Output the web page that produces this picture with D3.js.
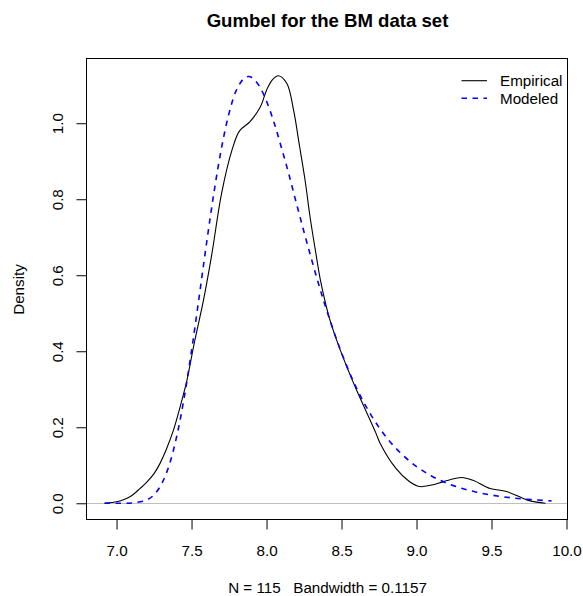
<!DOCTYPE html>
<html>
<head>
<meta charset="utf-8">
<script src="https://cdn.jsdelivr.net/npm/d3@7"></script>
<style>
  html, body { margin: 0; padding: 0; background: #fff; }
  svg { display: block; font-family: "Liberation Sans", Arial, Helvetica, sans-serif; }
  .pre { white-space: pre; }
</style>
</head>
<body>
<svg id="chart" width="583" height="596"></svg>
<script>
// ---- data ----
const titleText = "Gumbel for the BM data set";
const xLabel = "N = 115   Bandwidth = 0.1157";
const yLabel = "Density";
const seriesNames = ["Empirical", "Modeled"];

const xTicks = [7.0, 7.5, 8.0, 8.5, 9.0, 9.5, 10.0];
const xTickLabels = ["7.0", "7.5", "8.0", "8.5", "9.0", "9.5", "10.0"];
const yTicks = [0.0, 0.2, 0.4, 0.6, 0.8, 1.0];
const yTickLabels = ["0.0", "0.2", "0.4", "0.6", "0.8", "1.0"];

// Empirical kernel density (black solid)
const empX = [6.92, 6.97, 7.0, 7.05, 7.1, 7.157, 7.2, 7.25, 7.29, 7.33, 7.38, 7.445, 7.47, 7.52, 7.58, 7.635, 7.70, 7.77, 7.82, 7.89, 7.96, 8.0, 8.04, 8.08, 8.135, 8.18, 8.22, 8.257, 8.29, 8.33, 8.357, 8.39, 8.423, 8.49, 8.55, 8.60, 8.73, 8.757, 8.86, 8.95, 9.02, 9.1, 9.18, 9.3, 9.38, 9.49, 9.6, 9.735, 9.80, 9.86];
const empY = [0.0, 0.002, 0.004, 0.01, 0.02, 0.039, 0.055, 0.078, 0.105, 0.14, 0.193, 0.285, 0.325, 0.425, 0.535, 0.655, 0.815, 0.93, 0.98, 1.004, 1.044, 1.087, 1.115, 1.125, 1.105, 1.035, 0.94, 0.85, 0.754, 0.655, 0.592, 0.532, 0.482, 0.405, 0.345, 0.298, 0.184, 0.158, 0.093, 0.058, 0.044, 0.048, 0.057, 0.068, 0.06, 0.039, 0.031, 0.009, 0.003, 0.0];

// Modeled Gumbel density (blue dashed)
const modX = [6.92, 7.0, 7.1, 7.2, 7.25, 7.3, 7.35, 7.4, 7.45, 7.5, 7.55, 7.6, 7.65, 7.7, 7.75, 7.8, 7.85, 7.88, 7.9, 7.95, 8.0, 8.05, 8.1, 8.15, 8.2, 8.25, 8.3, 8.35, 8.4, 8.5, 8.6, 8.7, 8.8, 8.9, 9.0, 9.1, 9.2, 9.3, 9.4, 9.5, 9.6, 9.7, 9.8, 9.9];
const modY = [0.0, 0.0, 0.0007, 0.0084, 0.0223, 0.0506, 0.0993, 0.174, 0.276, 0.401, 0.541, 0.684, 0.819, 0.935, 1.026, 1.088, 1.118, 1.123, 1.121, 1.099, 1.058, 1.002, 0.935, 0.864, 0.788, 0.714, 0.642, 0.573, 0.509, 0.396, 0.303, 0.230, 0.173, 0.130, 0.0967, 0.0719, 0.053, 0.0395, 0.0292, 0.0216, 0.0159, 0.0117, 0.0087, 0.0064];

// ---- layout ----
const svg = d3.select("#chart");
const plot = { left: 87, right: 568, top: 59, bottom: 520 };
const x = d3.scaleLinear().domain([6.803, 10.01]).range([plot.left, plot.right]);
const y = d3.scaleLinear().domain([-0.044, 1.169]).range([plot.bottom, plot.top]);

const baseFont = 15.2;

// zero reference line
svg.append("line")
  .attr("x1", plot.left).attr("x2", plot.right)
  .attr("y1", Math.round(y(0)) + 0.5).attr("y2", Math.round(y(0)) + 0.5)
  .attr("stroke", "#bebebe").attr("stroke-width", 1);

// curves
const line = d3.line().x(d => x(d[0])).y(d => y(d[1])).curve(d3.curveCatmullRom.alpha(0.5));
const empData = empX.map((v, i) => [v, empY[i]]);
const modData = modX.map((v, i) => [v, modY[i]]);

svg.append("path").datum(empData)
  .attr("d", line).attr("fill", "none")
  .attr("stroke", "#000").attr("stroke-width", 1.1);

svg.append("path").datum(modData)
  .attr("d", line).attr("fill", "none")
  .attr("stroke", "#0000ff").attr("stroke-width", 1.6)
  .attr("stroke-dasharray", "5.5,5.5");

// box
svg.append("rect")
  .attr("x", plot.left - 0.5).attr("y", plot.top - 0.5)
  .attr("width", plot.right - plot.left).attr("height", plot.bottom - plot.top)
  .attr("fill", "none").attr("stroke", "#000").attr("stroke-width", 1);

// x axis
const xAxis = d3.axisBottom(x).tickValues(xTicks)
  .tickFormat((d, i) => xTickLabels[i]).tickSize(10).tickPadding(0);
const gx = svg.append("g").attr("transform", `translate(0,${plot.bottom - 0.5})`).call(xAxis);
gx.select(".domain").remove();
gx.selectAll(".tick line").attr("stroke", "#000");
gx.selectAll(".tick text")
  .attr("font-family", "Liberation Sans, Arial, sans-serif")
  .attr("font-size", baseFont).attr("fill", "#000")
  .attr("dy", 0).attr("y", 36.5);

// y axis
const yAxis = d3.axisLeft(y).tickValues(yTicks)
  .tickFormat((d, i) => yTickLabels[i]).tickSize(10).tickPadding(0);
const gy = svg.append("g").attr("transform", `translate(${plot.left - 0.5},0)`).call(yAxis);
gy.select(".domain").remove();
gy.selectAll(".tick line").attr("stroke", "#000");
gy.selectAll(".tick text")
  .attr("font-family", "Liberation Sans, Arial, sans-serif")
  .attr("font-size", baseFont).attr("fill", "#000")
  .attr("transform", "rotate(-90)")
  .attr("text-anchor", "middle")
  .attr("x", 0).attr("y", -23.5).attr("dy", 0);

// title
svg.append("text")
  .attr("x", (plot.left + plot.right) / 2).attr("y", 26.5)
  .attr("text-anchor", "middle").attr("font-weight", "bold")
  .attr("font-size", 18.6).text(titleText);

// x label (subtitle)
svg.append("text").attr("class", "pre")
  .attr("xml:space", "preserve")
  .attr("x", (plot.left + plot.right) / 2).attr("y", 593)
  .attr("text-anchor", "middle").attr("font-size", baseFont).text(xLabel);

// y label
svg.append("text")
  .attr("transform", `translate(24,${(plot.top + plot.bottom) / 2}) rotate(-90)`)
  .attr("text-anchor", "middle").attr("font-size", baseFont).text(yLabel);

// legend
const legend = [
  { name: seriesNames[0], color: "#000", dash: null, width: 1.1 },
  { name: seriesNames[1], color: "#0000ff", dash: "5.5,5.5", width: 1.6 }
];
const lg = svg.append("g");
legend.forEach((d, i) => {
  const yy = 80.7 + i * 17.6;
  lg.append("line")
    .attr("x1", 461.5).attr("x2", 487)
    .attr("y1", yy).attr("y2", yy)
    .attr("stroke", d.color).attr("stroke-width", d.width)
    .attr("stroke-dasharray", d.dash);
  lg.append("text")
    .attr("x", 500).attr("y", yy + 5.5)
    .attr("font-size", baseFont).text(d.name);
});
</script>
</body>
</html>
